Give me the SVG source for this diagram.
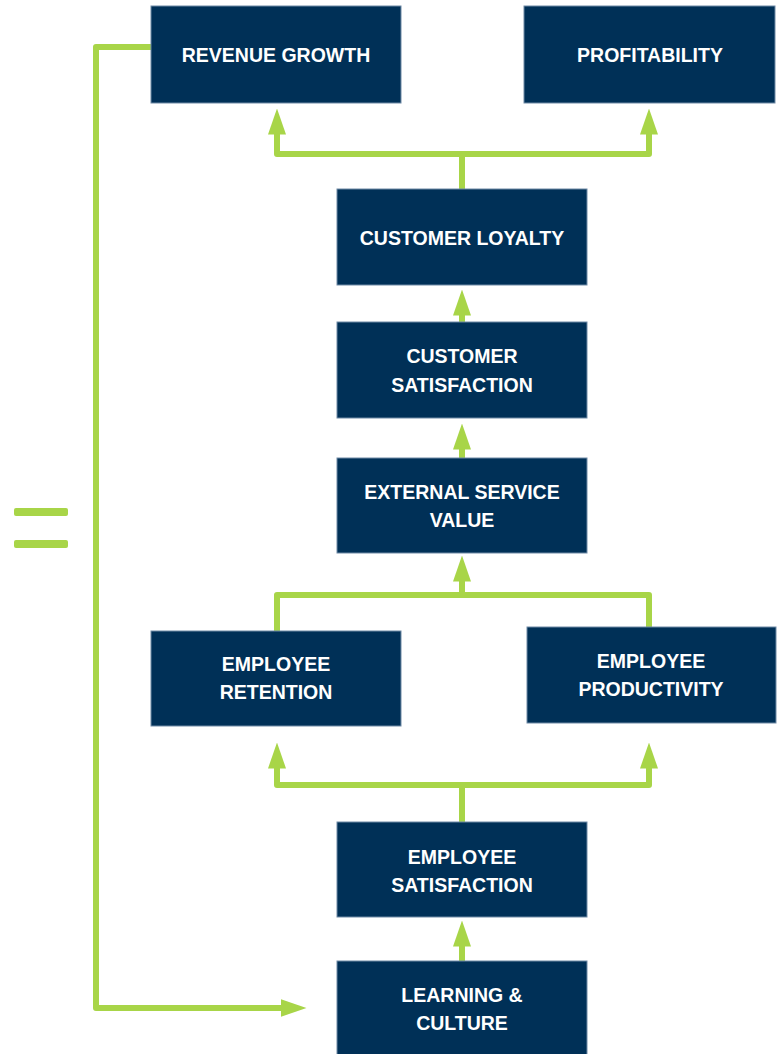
<svg xmlns="http://www.w3.org/2000/svg" width="778" height="1054" viewBox="0 0 778 1054">
<style>
.box{fill:#003057;stroke:#6f8aa6;stroke-width:1}
.lbl{fill:#ffffff;font-family:"Liberation Sans",Arial,sans-serif;font-weight:bold;font-size:19.5px;text-anchor:middle}
.con{fill:none;stroke:#A8D548;stroke-width:6;stroke-linejoin:round;stroke-linecap:butt}
.eq{fill:#A8D548}
</style>
<defs>
<marker id="arr" markerUnits="userSpaceOnUse" viewBox="0 0 26 18" refX="0.5" refY="9" markerWidth="26" markerHeight="18" orient="auto">
<path d="M0,0 L26,9 L0,18 Z" fill="#A8D548"/>
</marker>
</defs>
<rect width="778" height="1054" fill="#ffffff"/>
<g id="connectors">
<path class="con" d="M462,189 L462,154"/>
<path class="con" d="M462,154 L277,154 L277,134" marker-end="url(#arr)"/>
<path class="con" d="M462,154 L649,154 L649,134" marker-end="url(#arr)"/>
<path class="con" d="M462,322 L462,315" marker-end="url(#arr)"/>
<path class="con" d="M462,458 L462,449" marker-end="url(#arr)"/>
<path class="con" d="M277,631 L277,595 L462,595 L462,581" marker-end="url(#arr)"/>
<path class="con" d="M649,627 L649,595 L462,595"/>
<path class="con" d="M462,822 L462,785 L277,785 L277,768" marker-end="url(#arr)"/>
<path class="con" d="M462,785 L649,785 L649,768" marker-end="url(#arr)"/>
<path class="con" d="M462,961 L462,946" marker-end="url(#arr)"/>
<path class="con" d="M151,47 L96,47 L96,1008 L281,1008" marker-end="url(#arr)"/>
</g>
<g id="equals">
<rect class="eq" x="14" y="508" width="54" height="8" rx="2"/>
<rect class="eq" x="14" y="540" width="54" height="8" rx="2"/>
</g>
<g id="revenue-growth">
<rect class="box" x="151" y="6" width="250" height="97"/>
<text class="lbl" x="276" y="62">REVENUE GROWTH</text>
</g>
<g id="profitability">
<rect class="box" x="524" y="6" width="251" height="97"/>
<text class="lbl" x="650" y="62">PROFITABILITY</text>
</g>
<g id="customer-loyalty">
<rect class="box" x="337" y="189" width="250" height="96"/>
<text class="lbl" x="462" y="245">CUSTOMER LOYALTY</text>
</g>
<g id="customer-satisfaction">
<rect class="box" x="337" y="322" width="250" height="96"/>
<text class="lbl" x="462" y="363">CUSTOMER</text>
<text class="lbl" x="462" y="392">SATISFACTION</text>
</g>
<g id="external-service-value">
<rect class="box" x="337" y="458" width="250" height="95"/>
<text class="lbl" x="462" y="499">EXTERNAL SERVICE</text>
<text class="lbl" x="462" y="527">VALUE</text>
</g>
<g id="employee-retention">
<rect class="box" x="151" y="631" width="250" height="95"/>
<text class="lbl" x="276" y="671">EMPLOYEE</text>
<text class="lbl" x="276" y="699">RETENTION</text>
</g>
<g id="employee-productivity">
<rect class="box" x="527" y="627" width="249" height="96"/>
<text class="lbl" x="651" y="668">EMPLOYEE</text>
<text class="lbl" x="651" y="696">PRODUCTIVITY</text>
</g>
<g id="employee-satisfaction">
<rect class="box" x="337" y="822" width="250" height="95"/>
<text class="lbl" x="462" y="864">EMPLOYEE</text>
<text class="lbl" x="462" y="892">SATISFACTION</text>
</g>
<g id="learning-culture">
<rect class="box" x="337" y="961" width="250" height="95"/>
<text class="lbl" x="462" y="1002">LEARNING &amp;</text>
<text class="lbl" x="462" y="1030">CULTURE</text>
</g>
</svg>
